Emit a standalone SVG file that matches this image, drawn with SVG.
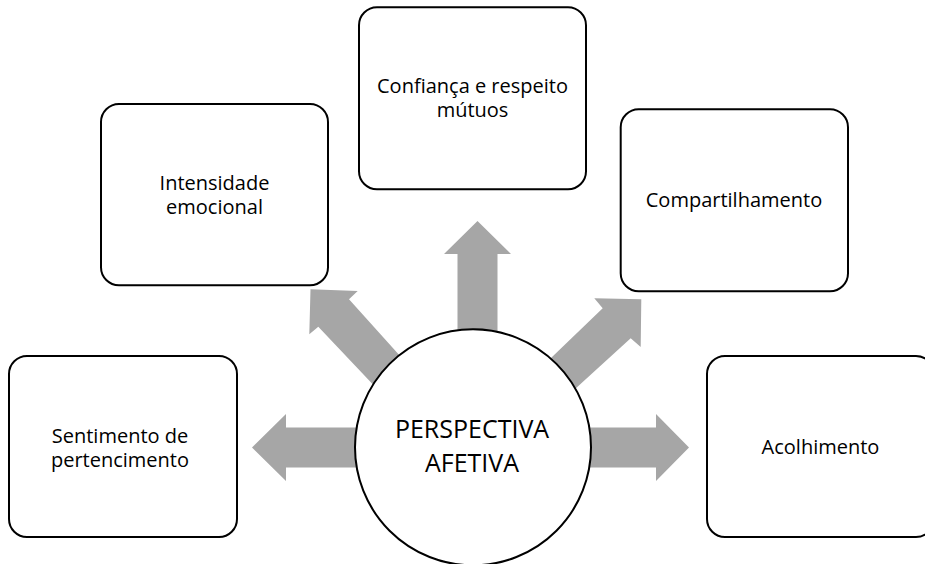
<svg xmlns="http://www.w3.org/2000/svg" width="925" height="564" viewBox="0 0 925 564">
<style>
.box{fill:#fff;stroke:#000;stroke-width:2}
.arr{fill:#A6A6A6;stroke:none}
.t{font-family:"Open Sans","Liberation Sans",sans-serif;font-size:20px;fill:#000;text-anchor:middle}
.c{font-family:"Open Sans","Liberation Sans",sans-serif;font-size:25px;fill:#000;text-anchor:middle}
</style>
<rect width="925" height="564" fill="#fff"/>
<g id="connectors">
<polygon class="arr" points="252,447.5 286,414 286,427.5 370,427.5 370,467.5 286,467.5 286,481"/>
<polygon class="arr" points="689,447.5 656,414 656,427.5 575,427.5 575,467.5 656,467.5 656,481"/>
<polygon class="arr" points="477.5,221 511,254 497.5,254 497.5,345 457.5,345 457.5,254 444,254"/>
<polygon class="arr" points="310.5,289.3 357.7,291 349,299.3 410,367 381,393 318.3,326.7 309.3,334.3"/>
<polygon class="arr" points="641.3,299.3 640.7,347 630.7,338.3 569,394.5 542.4,366.2 602.7,308.3 594.3,298.3"/>
</g>
<g id="node-center">
<circle class="box" cx="473" cy="447.3" r="118"/>
<text class="c" x="472" y="438.3">PERSPECTIVA</text>
<text class="c" x="472" y="471.7">AFETIVA</text>
</g>
<g id="node-confianca">
<rect class="box" x="359" y="7.3" width="227" height="182" rx="18"/>
<text class="t" x="472.5" y="92.7">Confiança e respeito</text>
<text class="t" x="472.5" y="117.3">mútuos</text>
</g>
<g id="node-intensidade">
<rect class="box" x="101" y="104" width="227" height="181.3" rx="18"/>
<text class="t" x="214.5" y="190">Intensidade</text>
<text class="t" x="214.5" y="214.4">emocional</text>
</g>
<g id="node-compartilhamento">
<rect class="box" x="620.7" y="109.3" width="227.3" height="182" rx="18"/>
<text class="t" x="734" y="207.3">Compartilhamento</text>
</g>
<g id="node-sentimento">
<rect class="box" x="9" y="356" width="228" height="181" rx="18"/>
<text class="t" x="120" y="442.7">Sentimento de</text>
<text class="t" x="120" y="467.1">pertencimento</text>
</g>
<g id="node-acolhimento">
<rect class="box" x="707" y="356" width="227" height="181" rx="18"/>
<text class="t" x="820.5" y="454.3">Acolhimento</text>
</g>
</svg>
